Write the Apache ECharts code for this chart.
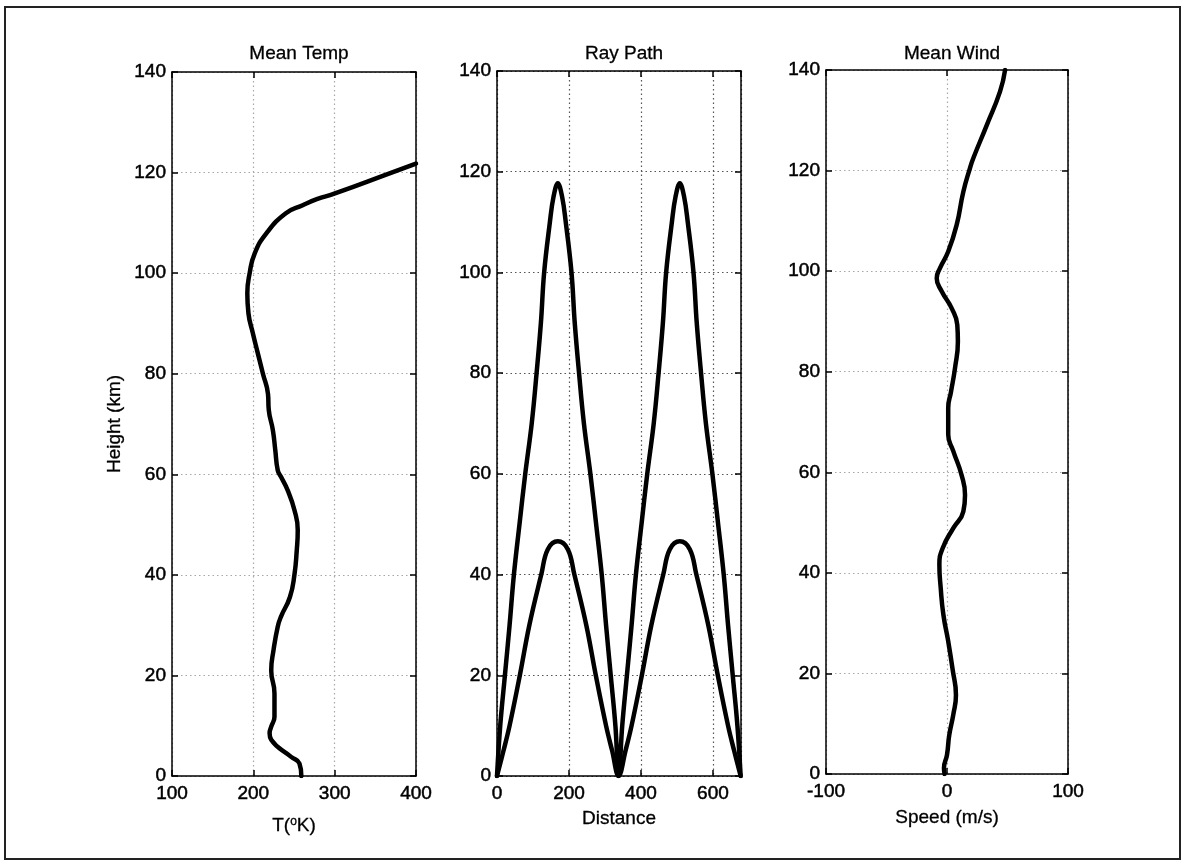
<!DOCTYPE html>
<html>
<head>
<meta charset="utf-8">
<script src="https://cdn.jsdelivr.net/npm/echarts@6/dist/echarts.min.js"></script>
<style>
  html, body { margin: 0; padding: 0; background: #fff; }
  #myChart { width: 1188px; height: 867px; }
</style>
</head>
<body>
<div id="myChart"></div>
<script>
// mean temperature profile (K) vs height (km)
var tempH = [0, 2.5, 3.8, 7.2, 8.5, 9.8, 11.8, 16.4, 21, 25, 29.7, 31.7, 35.6, 40, 44.9, 48.9, 52.9, 56.9, 59.5, 60.8, 64.8, 68.8, 72.8, 76, 80, 84, 88, 92, 96, 100, 103.9, 107.9, 111.9, 113.5, 114.7, 115.8, 120, 121.8];
var tempT = [259, 256.7, 246.5, 222, 220, 222, 226, 226, 222, 224.8, 230, 234, 245, 250.5, 253.4, 254.6, 250.5, 242, 234, 230, 227, 224, 219, 218, 211.8, 205.6, 199.5, 194, 192.6, 195.5, 201.6, 216, 240, 260.7, 278, 299.5, 370, 400];

// ray paths: distance vs height (km)
var rayHighDist = [0, 9, 22, 35, 47, 62.5, 78.5, 96.5, 110, 122, 131, 147, 157, 169, 181, 191, 207, 216, 228, 241.5, 259.5, 275.5, 291, 303, 316, 329, 338,
                   348, 361, 374, 386, 401.5, 417.5, 435.5, 449, 461, 470, 486, 496, 508, 520, 530, 546, 555, 567, 580.5, 598.5, 614.5, 630, 642, 655, 668, 677];
var rayHighAlt  = [0, 10, 20, 30, 40, 50, 60, 70, 80, 90, 100, 110, 115, 117.7, 115, 110, 100, 90, 80, 70, 60, 50, 40, 30, 20, 10, 0,
                   10, 20, 30, 40, 50, 60, 70, 80, 90, 100, 110, 115, 117.7, 115, 110, 100, 90, 80, 70, 60, 50, 40, 30, 20, 10, 0];
var rayLowDist = [0, 18, 35, 63.5, 90, 123, 141, 169, 197, 215, 248, 274.5, 303, 320, 338,
                  357, 374, 402.5, 429, 462, 480, 508, 536, 554, 587, 613.5, 642, 659, 677];
var rayLowAlt  = [0, 5, 10, 20, 30, 40, 45, 46.6, 45, 40, 30, 20, 10, 5, 0,
                  5, 10, 20, 30, 40, 45, 46.6, 45, 40, 30, 20, 10, 5, 0];

// mean wind speed (m/s) vs height (km)
var windH = [0, 1.2, 3.8, 7.8, 11.8, 15.7, 20.7, 26.4, 31.7, 37, 41.6, 44.9, 48.9, 52.2, 55.5, 59.5, 64.2, 67.5, 72.8, 76, 80.7, 86, 89.3, 92.6, 96, 98.6, 100.6, 103.9, 109.2, 115.8, 120.5, 122.5, 129, 135.7, 140];
var windU = [-2, -2.5, 0, 1.9, 5.2, 7.4, 4.7, 1, -3, -5.2, -6.3, -3.6, 5.2, 13.5, 14.9, 12, 5.2, 1, 1, 3.3, 6.6, 9, 8.5, 3.9, -4.4, -8.5, -5.8, 1, 8, 13.5, 19, 21.8, 32.8, 43.8, 48];

var heightTicks = { min: 0, max: 140, interval: 20 };

var font = 'Liberation Sans, Arial, sans-serif';
var ink = '#000';
var txt = { color: ink, fontSize: 19, fontFamily: font, textBorderColor: ink, textBorderWidth: 0.5 };

var panels = [
  { left: 172, top: 72, width: 244, height: 704, xmin: 100, xmax: 400, xint: 100, title: 'Mean Temp', gridColor: '#a8a8a8',
    xname: '{a|T(}{s|o}{a|K)}', nameGap: 40 },
  { left: 497, top: 71, width: 244, height: 705, xmin: 0, xmax: 678, xint: 200, title: 'Ray Path', gridColor: '#555',
    xname: 'Distance', nameGap: 33 },
  { left: 826, top: 70, width: 242, height: 704, xmin: -100, xmax: 100, xint: 100, title: 'Mean Wind', gridColor: '#a8a8a8',
    xname: 'Speed (m/s)', nameGap: 34 }
];

function pairs(xs, ys) {
  return xs.map(function (v, k) { return [v, ys[k]]; });
}

var grids = [], xAxes = [], yAxes = [], titles = [];
var lineAx = { show: true, onZero: false, lineStyle: { color: ink, width: 1.5 } };
var tickAx = { show: true, inside: true, length: 6, lineStyle: { color: ink, width: 1.5 } };

panels.forEach(function (p, i) {
  grids.push({ left: p.left, top: p.top, width: p.width, height: p.height });
  titles.push({
    text: p.title, left: p.left + p.width / 2, top: 39, textAlign: 'center',
    textStyle: Object.assign({ fontWeight: 'normal' }, txt, { textBorderWidth: 0.3 })
  });
  var split = { show: true, lineStyle: { color: p.gridColor, type: [1.5, 3], width: 1.2 } };
  xAxes.push({
    type: 'value', gridIndex: i, position: 'bottom',
    min: p.xmin, max: p.xmax, interval: p.xint,
    axisLine: lineAx, axisTick: tickAx, splitLine: split,
    axisLabel: Object.assign({ margin: 8, showMaxLabel: i !== 1 }, txt),
    name: p.xname, nameLocation: 'middle', nameGap: p.nameGap,
    nameTextStyle: Object.assign({
      rich: {
        a: Object.assign({}, txt, { textBorderWidth: 0.3 }),
        s: Object.assign({}, txt, { fontSize: 12, textBorderWidth: 0.3, verticalAlign: 'top' })
      }
    }, txt, { textBorderWidth: 0.3 })
  });
  xAxes.push({
    type: 'value', gridIndex: i, position: 'top',
    min: p.xmin, max: p.xmax, interval: p.xint,
    axisLine: lineAx, axisTick: tickAx, splitLine: { show: false }, axisLabel: { show: false }
  });
  yAxes.push({
    type: 'value', gridIndex: i, position: 'left',
    min: heightTicks.min, max: heightTicks.max, interval: heightTicks.interval,
    axisLine: lineAx, axisTick: tickAx, splitLine: split,
    axisLabel: Object.assign({ margin: 6 }, txt),
    name: i === 0 ? 'Height (km)' : '', nameLocation: 'middle', nameGap: 48,
    nameTextStyle: Object.assign({}, txt, { textBorderWidth: 0.3 })
  });
  yAxes.push({
    type: 'value', gridIndex: i, position: 'right',
    min: heightTicks.min, max: heightTicks.max, interval: heightTicks.interval,
    axisLine: lineAx, axisTick: tickAx, splitLine: { show: false }, axisLabel: { show: false }
  });
});

var lineBase = { type: 'line', showSymbol: false, symbol: 'none', lineStyle: { color: ink, width: 4.5, cap: 'round', join: 'round' }, clip: true };

var option = {
  animation: false,
  backgroundColor: '#fff',
  title: titles,
  grid: grids,
  xAxis: xAxes,
  yAxis: yAxes,
  graphic: [{
    type: 'rect', shape: { x: 5, y: 7, width: 1175, height: 852 },
    style: { fill: 'none', stroke: '#222', lineWidth: 2 }, z: 100
  }],
  series: [
    Object.assign({}, lineBase, { name: 'temp', xAxisIndex: 0, yAxisIndex: 0, smooth: 0.5, data: pairs(tempT, tempH) }),
    Object.assign({}, lineBase, { name: 'high ray', xAxisIndex: 2, yAxisIndex: 2, smooth: 0.4, data: pairs(rayHighDist, rayHighAlt) }),
    Object.assign({}, lineBase, { name: 'low ray', xAxisIndex: 2, yAxisIndex: 2, smooth: 0.4, data: pairs(rayLowDist, rayLowAlt) }),
    Object.assign({}, lineBase, { name: 'wind', xAxisIndex: 4, yAxisIndex: 4, smooth: 0.5, data: pairs(windU, windH) })
  ]
};

var myChart = echarts.init(document.getElementById('myChart'));
myChart.setOption(option);
</script>
</body>
</html>
